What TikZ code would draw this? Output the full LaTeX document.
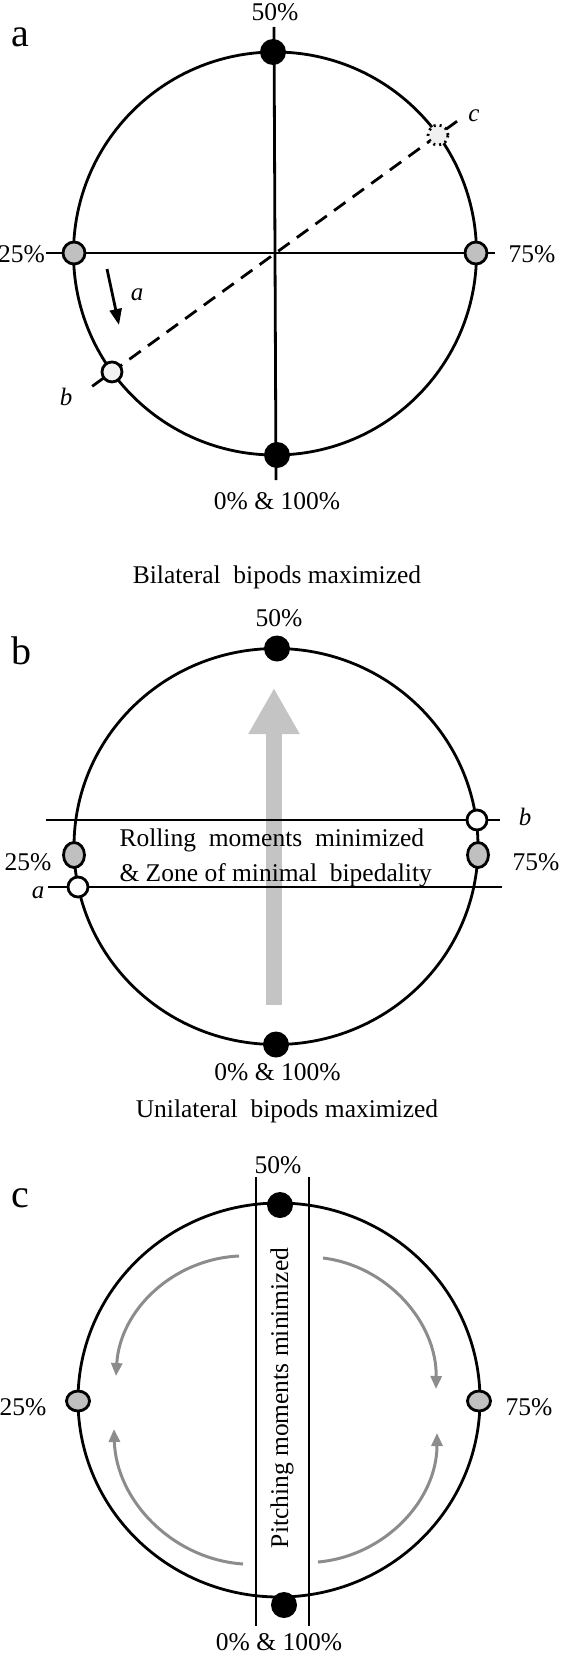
\documentclass[tikz,border=0pt]{standalone}
\usepackage{fontspec}
\setmainfont{Liberation Serif}
\usetikzlibrary{arrows.meta,shapes.geometric,calc}

\begin{document}
\begin{tikzpicture}[x=1pt, y=-1pt,
    axis/.style={line width=2.8pt},
    blackdot/.style={circle, fill=black, minimum size=26pt, inner sep=0pt},
    graydot/.style={circle, draw, line width=2.8pt, fill=dotgray, minimum size=22pt, inner sep=0pt},
    opendot/.style={circle, draw, line width=2.8pt, fill=white, minimum size=20pt, inner sep=0pt},
    grayoval/.style={ellipse, draw, line width=2.8pt, fill=dotgray, inner sep=0pt},
    pct/.style={font=\fontsize{25.5}{30}\selectfont},
    tag/.style={font=\fontsize{25}{30}\selectfont\itshape},
    panel/.style={font=\fontsize{40}{44}\selectfont, anchor=base west},
    swing/.style={-{Triangle[length=13pt,width=11pt]}, line width=3pt, arcgray},
  ]
  \definecolor{dotgray}{RGB}{192,192,192}
  \definecolor{arcgray}{RGB}{140,140,140}
  \definecolor{shaftgray}{RGB}{196,196,196}
  \useasboundingbox (0,0) rectangle (560,1654);

  % panel a
  \node[panel] (pa) at (8,47) {a};
  \coordinate (ca) at (275,253.5);
  \coordinate (ta) at (274,27);
  \coordinate (ua) at (276,480);
  \coordinate (la) at (46,253);
  \coordinate (ra) at (495,253);
  \coordinate (xb) at ($(ca)+(144:226)$);
  \coordinate (xc) at ($(ca)+(-36:229)$);
  \draw[axis] (ca) circle [radius=201.5];
  \draw[axis] (ta) -- (ua);
  \draw[axis] (la) -- (ra);
  \draw[axis, dash pattern=on 14pt off 9pt] (xb) -- (xc);
  \node[blackdot] (a50) at (273,52) {};
  \node[blackdot] (a0) at (277,455) {};
  \node[graydot] (a25) at (74,253) {};
  \node[graydot] (a75) at (476,253) {};
  \node[opendot, fill=black!5] (ab) at ($(ca)+(144:201.5)$) {};
  \node[opendot, fill=black!6, dash pattern=on 2pt off 4pt] (ac) at ($(ca)+(-36:201.5)$) {};
  \node[pct] (a50t) at (275,12.5) {50\%};
  \node[pct] (a0t) at (277,501.5) {0\% \& 100\%};
  \node[pct, anchor=east, inner xsep=1pt] (a25t) at (46,254) {25\%};
  \node[pct, anchor=west] (a75t) at (505,254) {75\%};
  \coordinate (sa) at (107,269);
  \coordinate (ea) at (119,325);
  \draw[line width=2.8pt, -{Triangle[length=16pt,width=12pt]}] (sa) -- (ea);
  \node[tag] (taga) at (137,295) {a};
  \node[tag] (tagb) at (66,397) {b};
  \node[tag] (tagc) at (474,116) {c};
  \node[pct] (capa) at (277,577) {Bilateral\ \ bipods maximized};

  % panel b
  \node[panel] (pb) at (8,664) {b};
  \coordinate (cb) at (276,846.5);
  \coordinate (sb) at (274,1005);
  \coordinate (eb) at (274,688);
  \draw[line width=16pt, shaftgray, -{Triangle[length=46pt,width=48pt]}] (sb) -- (eb);
  \draw[axis] (cb) ellipse [x radius=202, y radius=198];
  \coordinate (ub1) at (46,820);
  \coordinate (ub2) at (500,820);
  \coordinate (lb1) at (48,887);
  \coordinate (lb2) at (502,887);
  \draw[axis] (ub1) -- (ub2);
  \draw[axis] (lb1) -- (lb2);
  \node[blackdot] (b50) at (277,648.5) {};
  \node[blackdot] (b0) at (276,1044.5) {};
  \node[opendot] (bb) at (477,820) {};
  \node[opendot] (ba) at (78,887) {};
  \node[grayoval, minimum width=21pt, minimum height=25pt] (b25) at (74,855) {};
  \node[grayoval, minimum width=21pt, minimum height=25pt] (b75) at (478,855) {};
  \node[pct, anchor=base west] (roll) at (116,846) {Rolling\ \ moments\ \ minimized};
  \node[pct, anchor=base west] (zone) at (116,881) {\& Zone of minimal\ \ bipedality};
  \node[pct] (b25t) at (28,862) {25\%};
  \node[pct] (b75t) at (536,862) {75\%};
  \node[tag] (tagba) at (38,893) {a};
  \node[tag] (tagbb) at (525,817) {b};
  \node[pct] (b50t) at (279,618) {50\%};
  \node[pct] (b0t) at (277.5,1072.5) {0\% \& 100\%};
  \node[pct] (capb) at (287,1111) {Unilateral\ \ bipods maximized};

  % panel c
  \node[panel] (pc) at (8,1207) {c};
  \coordinate (cc) at (279,1400);
  \coordinate (v1t) at (256,1177);
  \coordinate (v1b) at (256,1626);
  \coordinate (v2t) at (309,1177);
  \coordinate (v2b) at (309,1626);
  \draw[axis] (cc) ellipse [x radius=201, y radius=197];
  \draw[axis] (v1t) -- (v1b);
  \draw[axis] (v2t) -- (v2b);
  \node[blackdot] (c50) at (280,1205) {};
  \node[blackdot] (c0) at (284,1605) {};
  \node[grayoval, minimum width=23pt, minimum height=20pt] (c25) at (78,1401) {};
  \node[grayoval, minimum width=23pt, minimum height=20pt] (c75) at (479,1401) {};
  \node[pct] (c25t) at (23,1407) {25\%};
  \node[pct] (c75t) at (529,1407) {75\%};
  \node[pct] (c50t) at (278,1165) {50\%};
  \node[pct] (c0t) at (279,1642) {0\% \& 100\%};
  \node[pct, rotate=90] (pitch) at (282,1398) {Pitching moments minimized};
  \coordinate (tl1) at (239,1256);
  \coordinate (tl2) at (116,1376);
  \coordinate (bl1) at (243,1564);
  \coordinate (bl2) at (114,1429);
  \coordinate (tr1) at (323,1258);
  \coordinate (tr2) at (436,1389);
  \coordinate (br1) at (318,1562);
  \coordinate (br2) at (437,1433);
  \draw[swing] (tl1) .. controls (173,1259) and (120,1310) .. (tl2);
  \draw[swing] (bl1) .. controls (172,1559) and (116,1500) .. (bl2);
  \draw[swing] (tr1) .. controls (388,1266) and (437,1323) .. (tr2);
  \draw[swing] (br1) .. controls (385,1556) and (437,1500) .. (br2);
\end{tikzpicture}
\end{document}
